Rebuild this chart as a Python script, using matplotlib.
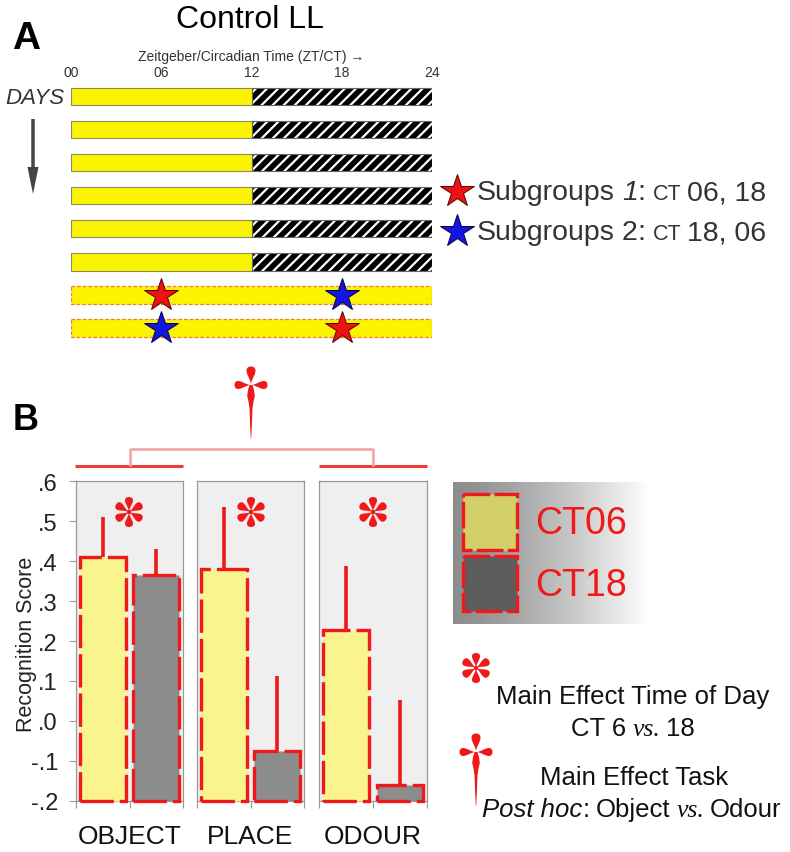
import matplotlib.pyplot as plt
import numpy as np
from matplotlib.patches import Polygon, Rectangle

plt.rcParams['font.family'] = ['Liberation Sans', 'DejaVu Sans']
plt.rcParams['hatch.linewidth'] = 1.6

# --- panel A: light/dark schedule ---
hours = [0, 6, 12, 18, 24]
hour_labels = ['00', '06', '12', '18', '24']
n_ll_days = 6
test_rows = [6, 7]
sub1_ct = [6, 18]   # red stars
sub2_ct = [18, 6]   # blue stars

# --- panel B: recognition score ---
tasks = ['OBJECT', 'PLACE', 'ODOUR']
ct06_mean = [0.41, 0.38, 0.228]
ct06_err = [0.10, 0.156, 0.16]
ct18_mean = [0.365, -0.075, -0.16]
ct18_err = [0.065, 0.188, 0.212]
yticks = [-0.2, -0.1, 0.0, 0.1, 0.2, 0.3, 0.4, 0.5, 0.6]
ytick_labels = ['-.2', '-.1', '.0', '.1', '.2', '.3', '.4', '.5', '.6']

W, H = 790, 853
RED = '#f01818'
YEL = '#fbf400'
fig = plt.figure(figsize=(W / 100, H / 100), dpi=100)


def frac(x0, y0, x1, y1):
    # pixel box (top-left origin) -> figure fraction rect
    return [x0 / W, 1 - y1 / H, (x1 - x0) / W, (y1 - y0) / H]


# ---------- panel A ----------
axA = fig.add_axes(frac(71, 81, 432, 345.6))
n_rows = n_ll_days + len(test_rows)
for i in range(n_ll_days):
    axA.barh(i, 12, left=0, height=0.52, color=YEL, edgecolor='#8a8a60', lw=0.8)
    axA.barh(i, 12, left=12, height=0.52, color='black', lw=0)
    axA.barh(i, 12, left=12, height=0.52, color='none', edgecolor='white', hatch='///', lw=0)
    axA.barh(i, 12, left=12, height=0.52, color='none', edgecolor='#666666', lw=0.8)
for r in test_rows:
    axA.barh(r, 24, left=0, height=0.52, color=YEL, edgecolor='#f07a3a', lw=0.9, linestyle=(0, (3, 1.5)))
axA.plot(sub1_ct, test_rows, ls='none', marker='*', ms=25, color='#ee1111', mec='#550000', mew=0.7, clip_on=False, zorder=5)
axA.plot(sub2_ct, test_rows, ls='none', marker='*', ms=25, color='#1515e0', mec='#000040', mew=0.7, clip_on=False, zorder=5)
axA.set_xlim(0, 24)
axA.set_ylim(n_rows - 0.5, -0.5)
axA.xaxis.tick_top()
axA.set_xticks(hours, hour_labels)
axA.tick_params(axis='x', length=0, pad=1, labelsize=10, labelcolor='#333333')
axA.set_yticks([])
for s in axA.spines.values():
    s.set_visible(False)

# ---------- panel B ----------
panel_px = [(76, 183), (197, 304), (319, 427)]
axes_b = []
for k, (x0, x1) in enumerate(panel_px):
    ax = fig.add_axes(frac(x0, 482.4, x1, 801.7))
    ax.set_facecolor('#efefef')
    ax.bar(0.5, ct06_mean[k] + 0.2, bottom=-0.2, width=0.86, color='#f9f48e', edgecolor=RED,
           lw=2.4, linestyle=(0, (10, 1.8)), clip_on=False, zorder=3)
    ax.bar(1.5, ct18_mean[k] + 0.2, bottom=-0.2, width=0.86, color='#8c8c8c', edgecolor=RED,
           lw=2.4, linestyle=(0, (10, 1.8)), clip_on=False, zorder=3)
    ax.vlines([0.5, 1.5], [ct06_mean[k], ct18_mean[k]],
              [ct06_mean[k] + ct06_err[k], ct18_mean[k] + ct18_err[k]], color=RED, lw=2.6, zorder=4)
    ax.set_xlim(0, 2)
    ax.set_ylim(-0.2, 0.6)
    ax.set_xticks([0, 1, 2], ['', '', ''])
    ax.tick_params(axis='x', direction='out', length=5, color='#999999', width=0.8)
    ax.set_xlabel(tasks[k], fontsize=19, labelpad=8, color='#111111')
    if k == 0:
        ax.set_yticks(yticks, ytick_labels)
        ax.tick_params(axis='y', direction='out', length=5, pad=8, color='#999999', labelsize=17,
                       labelcolor='#222222')
    else:
        ax.set_yticks([])
    for s in ax.spines.values():
        s.set_color('#999999')
        s.set_linewidth(0.9)
    axes_b.append(ax)

# ---------- overlay in pixel units ----------
ov = fig.add_axes([0, 0, 1, 1], zorder=10)
ov.patch.set_alpha(0)
ov.axis('off')


def teardrop(cx, cy, ang, length, width, r0=0.0, m=2.2):
    t = np.linspace(0, 2 * np.pi, 100)
    x = np.cos(t)
    y = np.sin(t) * np.abs(np.sin(t / 2)) ** m
    y = y / np.abs(y).max() * width / 2
    u = (1 - x) / 2 * length + r0
    a = np.deg2rad(ang)
    px = cx + u * np.cos(a) - y * np.sin(a)
    py = cy + u * np.sin(a) + y * np.cos(a)
    ov.add_patch(Polygon(np.column_stack([px, py]), closed=True, color=RED, lw=0))


def asterisk(cx, cy):
    for ang in [-90, -30, 30, 90, 150, 210]:
        teardrop(cx, cy, ang, 15, 8, r0=0.0, m=2.6)
    ov.add_patch(plt.Circle((cx, cy), 2.2, color=RED, lw=0))


def santiago(cx, cy):
    teardrop(cx, cy, -90, 18, 9, r0=0.5, m=2.4)
    teardrop(cx, cy, 180, 16, 8, r0=0.5, m=2.4)
    teardrop(cx, cy, 0, 16, 8, r0=0.5, m=2.4)
    prof = [(0, 1.4), (5, 3.0), (11, 3.8), (17, 2.4), (23, 1.5), (40, 0.9), (54, 0.2)]
    left = [(cx - w, cy + s) for s, w in prof]
    right = [(cx + w, cy + s) for s, w in prof[::-1]]
    ov.add_patch(Polygon(left + right, closed=True, color=RED, lw=0))


def runs(x, y, parts, ha='left', **common):
    r = fig.canvas.get_renderer()
    texts = []
    cur = x
    for s, kw, gap in parts:
        t = ov.text(cur, y, s, va='baseline', ha='left', **common, **kw)
        cur += t.get_window_extent(renderer=r).width + gap
        texts.append(t)
    if ha == 'center':
        shift = (cur - x) / 2
        for t in texts:
            t.set_x(t.get_position()[0] - shift)
    return texts


# titles and labels
ov.text(250, 20, 'Control LL', fontsize=23, ha='center', va='center', color='black')
ov.text(26, 39, 'A', fontsize=28, fontweight='bold', ha='center', va='center')
ov.text(26, 420, 'B', fontsize=26, fontweight='bold', ha='center', va='center')
ov.text(251, 57, 'Zeitgeber/Circadian Time (ZT/CT) \u2192', fontsize=10, ha='center', va='center',
        color='#333333')
ov.text(64, 98, 'DAYS', fontsize=16, style='italic', ha='right', va='center', color='#333333')
ov.arrow(33, 120, 0, 75, width=3.5, head_width=11, head_length=27, length_includes_head=True,
         color='#444444', lw=0)

# subgroup legend
ov.plot([457], [192], ls='none', marker='*', ms=25, color='#ee1111', mec='#550000', mew=0.7)
ov.plot([457], [232], ls='none', marker='*', ms=25, color='#1515e0', mec='#000040', mew=0.7)
sans = dict(fontsize=20.5)
for yb, num, times in [(200, '1', '06, 18'), (240, '2', '18, 06')]:
    runs(477, yb, [('Subgroups', sans, 7),
                   (num, dict(fontsize=20.5, style='italic' if num == '1' else 'normal'), 0),
                   (':', sans, 7),
                   ('CT', dict(fontsize=15.5), 6),
                   (times, sans, 0)], color='#333333')

# significance brackets
ov.plot([75, 183], [466.7, 466.7], color='#ee3b3b', lw=2.2, solid_capstyle='butt')
ov.plot([319, 427], [466.7, 466.7], color='#ee3b3b', lw=2.2, solid_capstyle='butt')
ov.plot([130, 130, 373, 373], [466, 450, 450, 466], color='#f4a0a0', lw=1.8)
santiago(251, 386)
for cx in [129, 251, 373]:
    asterisk(cx, 513)

# CT legend with gradient
grad = 0.55 + 0.45 * np.linspace(0, 1, 200) ** 1.3
ov.imshow(grad[None, :], extent=(453, 650, 625, 483), cmap='gray', vmin=0, vmax=1,
          aspect='auto', interpolation='bilinear', zorder=1)
ov.add_patch(Rectangle((463, 495), 54, 56, facecolor='#d2cf68', edgecolor=RED, lw=2.4,
                       linestyle=(0, (8, 1.3)), zorder=2))
ov.add_patch(Rectangle((463, 557), 54, 55, facecolor='#5d5d5d', edgecolor=RED, lw=2.4,
                       linestyle=(0, (8, 1.3)), zorder=2))
ov.text(535, 524, 'CT06', fontsize=27, color=RED, ha='left', va='center', zorder=3)
ov.text(535, 586, 'CT18', fontsize=27, color=RED, ha='left', va='center', zorder=3)

# effect legend
asterisk(476, 669)
santiago(476, 753)
fs = 18.5
tx = dict(fontsize=fs)
vs = dict(fontsize=fs, family='Liberation Serif', style='italic')
ov.text(633, 697, 'Main Effect Time of Day', fontsize=fs, ha='center', va='center', color='#111111')
runs(633, 736, [('CT 6', tx, 6), ('vs.', vs, 6), ('18', tx, 0)], ha='center', color='#111111')
ov.text(634, 778, 'Main Effect Task', fontsize=fs, ha='center', va='center', color='#111111')
runs(632, 817, [('Post hoc', dict(fontsize=fs, style='italic'), 0), (':', tx, 6), ('Object', tx, 6),
                ('vs.', vs, 6), ('Odour', tx, 0)], ha='center', color='#111111')

# rotated y label for panel B
ov.text(27, 644, 'Recognition Score', fontsize=15.5, rotation=90, ha='center', va='center',
        color='#222222')

ov.set_xlim(0, W)
ov.set_ylim(H, 0)

fig.savefig('out.png', dpi=100)
plt.close(fig)
